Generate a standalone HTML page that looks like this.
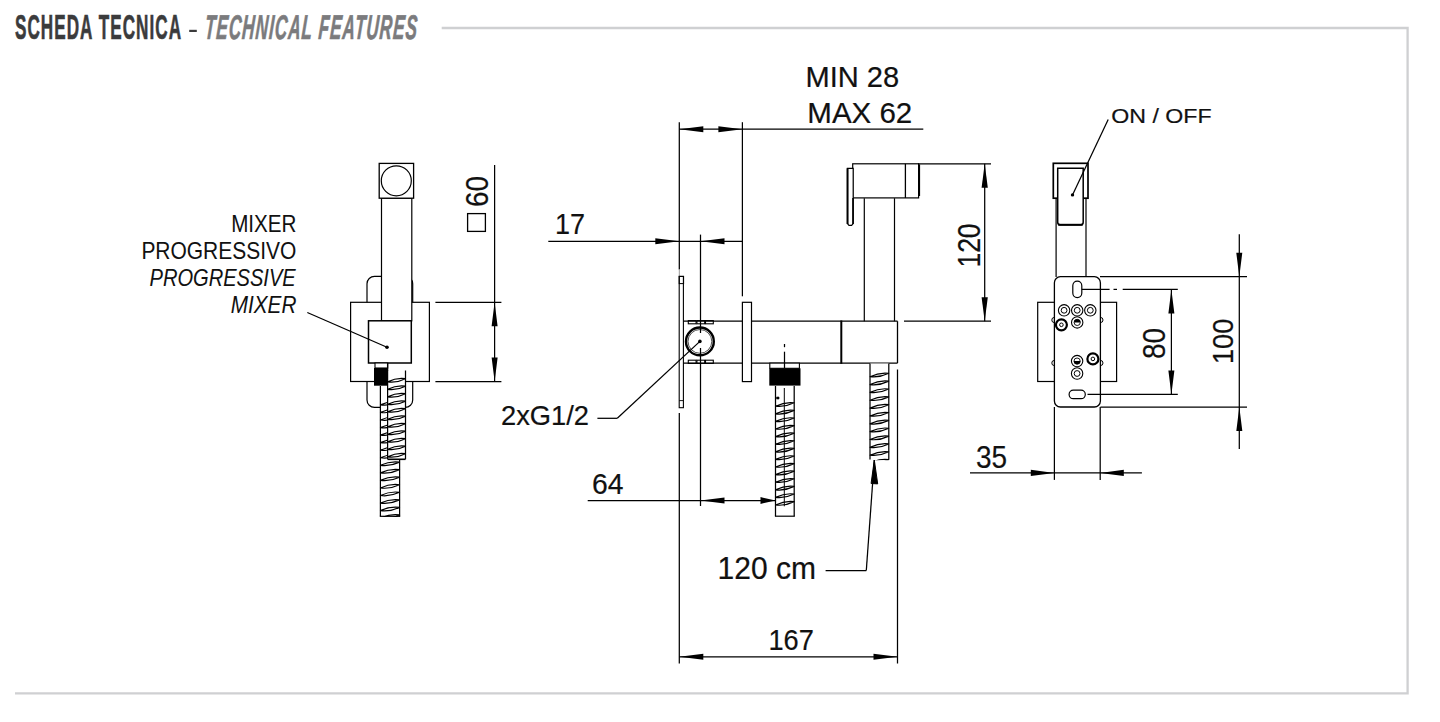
<!DOCTYPE html>
<html><head><meta charset="utf-8"><style>
html,body{margin:0;padding:0;background:#fff;}
body{width:1440px;height:722px;overflow:hidden;position:relative;}
svg{position:absolute;left:0;top:0;}
</style></head><body>
<svg width="1440" height="722" viewBox="0 0 1440 722">
<g font-family="Liberation Sans, sans-serif">
<g transform="translate(15,39.2) scale(0.5,1)"><text x="0" y="0" font-size="34.2" font-weight="bold" fill="#3b3b3c" stroke="#3b3b3c" stroke-width="0.7" textLength="332" lengthAdjust="spacing">SCHEDA TECNICA</text></g>
<rect x="189.2" y="29.8" width="7.6" height="2.2" fill="#3b3b3c"/>
<g transform="translate(204.2,39.2) scale(0.5,1) skewX(-8)"><text x="0" y="0" font-size="34.2" font-weight="bold" font-style="italic" fill="#7b7b7d" stroke="#7b7b7d" stroke-width="0.7" textLength="424.4" lengthAdjust="spacing">TECHNICAL FEATURES</text></g>
</g>
<g stroke="#cfd0d2" stroke-width="2.3" fill="none">
<polyline points="441.7,28 1407.6,28 1407.6,693.3 15,693.3"/>
</g>
<g stroke="#000" fill="none" font-family="Liberation Sans, sans-serif">
<rect x="367" y="276.3" width="45.7" height="131.1" rx="7.5" fill="#fff" stroke-width="1.2"/>
<rect x="350.6" y="302.3" width="78.8" height="79.2" fill="#fff" stroke-width="1.2" />
<rect x="381.5" y="198.2" width="30.3" height="122.6" fill="#fff" stroke-width="1.2" />
<rect x="379.2" y="163.4" width="34.4" height="34.8" fill="#fff" stroke-width="1.3" />
<circle cx="396.3" cy="180.8" r="15" fill="none" stroke-width="1.2"/>
<rect x="368.5" y="320.8" width="42.8" height="42.2" fill="#fff" stroke-width="1.5" />
<rect x="375" y="363" width="12.7" height="5" fill="#fff" stroke-width="1.1" />
<rect x="374" y="368" width="13.8" height="17.7" fill="#000" stroke="none"/>
<clipPath id="hc1"><rect x="379.7" y="386" width="20.600000000000044" height="131.09999999999997"/></clipPath>
<rect x="380.4" y="386" width="19.200000000000045" height="130.29999999999995" fill="#fff" stroke="none"/>
<g clip-path="url(#hc1)">
<path d="M380.4,404.90 Q390.0,400.40 399.6,401.70 Q390.0,406.20 380.4,404.90 Z" stroke-width="1.2" fill="none" stroke-linejoin="round"/>
<path d="M380.4,412.45 Q390.0,407.95 399.6,409.25 Q390.0,413.75 380.4,412.45 Z" stroke-width="1.2" fill="none" stroke-linejoin="round"/>
<path d="M380.4,420.00 Q390.0,415.50 399.6,416.80 Q390.0,421.30 380.4,420.00 Z" stroke-width="1.2" fill="none" stroke-linejoin="round"/>
<path d="M380.4,427.55 Q390.0,423.05 399.6,424.35 Q390.0,428.85 380.4,427.55 Z" stroke-width="1.2" fill="none" stroke-linejoin="round"/>
<path d="M380.4,435.10 Q390.0,430.60 399.6,431.90 Q390.0,436.40 380.4,435.10 Z" stroke-width="1.2" fill="none" stroke-linejoin="round"/>
<path d="M380.4,442.65 Q390.0,438.15 399.6,439.45 Q390.0,443.95 380.4,442.65 Z" stroke-width="1.2" fill="none" stroke-linejoin="round"/>
<path d="M380.4,450.20 Q390.0,445.70 399.6,447.00 Q390.0,451.50 380.4,450.20 Z" stroke-width="1.2" fill="none" stroke-linejoin="round"/>
<path d="M380.4,457.75 Q390.0,453.25 399.6,454.55 Q390.0,459.05 380.4,457.75 Z" stroke-width="1.2" fill="none" stroke-linejoin="round"/>
<path d="M380.4,465.30 Q390.0,460.80 399.6,462.10 Q390.0,466.60 380.4,465.30 Z" stroke-width="1.2" fill="none" stroke-linejoin="round"/>
<path d="M380.4,472.85 Q390.0,468.35 399.6,469.65 Q390.0,474.15 380.4,472.85 Z" stroke-width="1.2" fill="none" stroke-linejoin="round"/>
<path d="M380.4,480.40 Q390.0,475.90 399.6,477.20 Q390.0,481.70 380.4,480.40 Z" stroke-width="1.2" fill="none" stroke-linejoin="round"/>
<path d="M380.4,487.95 Q390.0,483.45 399.6,484.75 Q390.0,489.25 380.4,487.95 Z" stroke-width="1.2" fill="none" stroke-linejoin="round"/>
<path d="M380.4,495.50 Q390.0,491.00 399.6,492.30 Q390.0,496.80 380.4,495.50 Z" stroke-width="1.2" fill="none" stroke-linejoin="round"/>
<path d="M380.4,503.05 Q390.0,498.55 399.6,499.85 Q390.0,504.35 380.4,503.05 Z" stroke-width="1.2" fill="none" stroke-linejoin="round"/>
<path d="M380.4,510.60 Q390.0,506.10 399.6,507.40 Q390.0,511.90 380.4,510.60 Z" stroke-width="1.2" fill="none" stroke-linejoin="round"/>
<path d="M380.4,518.15 Q390.0,513.65 399.6,514.95 Q390.0,519.45 380.4,518.15 Z" stroke-width="1.2" fill="none" stroke-linejoin="round"/>
</g>
<line x1="380.4" y1="386" x2="380.4" y2="516.3" stroke-width="1.25" />
<line x1="399.6" y1="386" x2="399.6" y2="516.3" stroke-width="1.25" />
<line x1="379.79999999999995" y1="516.3" x2="400.20000000000005" y2="516.3" stroke-width="1.2" />
<rect x="387.7" y="369" width="17.8" height="90.5" fill="#fff" stroke="none"/>
<clipPath id="hc2"><rect x="386.90000000000003" y="370.5" width="19.299999999999976" height="89.60000000000001"/></clipPath>
<rect x="387.6" y="370.5" width="17.899999999999977" height="88.80000000000001" fill="#fff" stroke="none"/>
<g clip-path="url(#hc2)">
<path d="M387.6,381.90 Q396.6,377.40 405.5,378.70 Q396.6,383.20 387.6,381.90 Z" stroke-width="1.2" fill="none" stroke-linejoin="round"/>
<path d="M387.6,389.40 Q396.6,384.90 405.5,386.20 Q396.6,390.70 387.6,389.40 Z" stroke-width="1.2" fill="none" stroke-linejoin="round"/>
<path d="M387.6,396.90 Q396.6,392.40 405.5,393.70 Q396.6,398.20 387.6,396.90 Z" stroke-width="1.2" fill="none" stroke-linejoin="round"/>
<path d="M387.6,404.40 Q396.6,399.90 405.5,401.20 Q396.6,405.70 387.6,404.40 Z" stroke-width="1.2" fill="none" stroke-linejoin="round"/>
<path d="M387.6,411.90 Q396.6,407.40 405.5,408.70 Q396.6,413.20 387.6,411.90 Z" stroke-width="1.2" fill="none" stroke-linejoin="round"/>
<path d="M387.6,419.40 Q396.6,414.90 405.5,416.20 Q396.6,420.70 387.6,419.40 Z" stroke-width="1.2" fill="none" stroke-linejoin="round"/>
<path d="M387.6,426.90 Q396.6,422.40 405.5,423.70 Q396.6,428.20 387.6,426.90 Z" stroke-width="1.2" fill="none" stroke-linejoin="round"/>
<path d="M387.6,434.40 Q396.6,429.90 405.5,431.20 Q396.6,435.70 387.6,434.40 Z" stroke-width="1.2" fill="none" stroke-linejoin="round"/>
<path d="M387.6,441.90 Q396.6,437.40 405.5,438.70 Q396.6,443.20 387.6,441.90 Z" stroke-width="1.2" fill="none" stroke-linejoin="round"/>
<path d="M387.6,449.40 Q396.6,444.90 405.5,446.20 Q396.6,450.70 387.6,449.40 Z" stroke-width="1.2" fill="none" stroke-linejoin="round"/>
<path d="M387.6,456.90 Q396.6,452.40 405.5,453.70 Q396.6,458.20 387.6,456.90 Z" stroke-width="1.2" fill="none" stroke-linejoin="round"/>
<path d="M387.6,464.40 Q396.6,459.90 405.5,461.20 Q396.6,465.70 387.6,464.40 Z" stroke-width="1.2" fill="none" stroke-linejoin="round"/>
</g>
<line x1="387.6" y1="370.5" x2="387.6" y2="459.3" stroke-width="1.25" />
<line x1="405.5" y1="370.5" x2="405.5" y2="459.3" stroke-width="1.25" />
<line x1="387.6" y1="363" x2="387.6" y2="371" stroke-width="1.3" />
<line x1="387.6" y1="459.3" x2="405.5" y2="459.3" stroke-width="1.6" />
<line x1="307.3" y1="312.5" x2="387" y2="347.3" stroke-width="1.25" />
<circle cx="387" cy="347.3" r="1.8" fill="#000" stroke="none"/>
<line x1="435.4" y1="302.3" x2="501.4" y2="302.3" stroke-width="1.25" />
<line x1="435.4" y1="381.6" x2="501.4" y2="381.6" stroke-width="1.25" />
<line x1="494.6" y1="165" x2="494.6" y2="381.6" stroke-width="1.25" />
<polygon points="494.6,302.3 491.6,326.3 497.6,326.3" fill="#000" stroke="none"/>
<polygon points="494.6,381.6 491.6,357.6 497.6,357.6" fill="#000" stroke="none"/>
<g transform="translate(488.1,207.1) rotate(-90)"><text x="0" y="0" font-size="30.83" text-anchor="start" textLength="31.08" lengthAdjust="spacingAndGlyphs" fill="#111" stroke="#111" stroke-width="0.2">60</text></g>
<rect x="467.6" y="213.6" width="17.8" height="17.8" fill="none" stroke-width="1.3" />
<g transform="translate(296.4,231.9)"><text x="0" y="0" font-size="24" text-anchor="end" textLength="65.24" lengthAdjust="spacingAndGlyphs" fill="#111" stroke="#111" stroke-width="0.05">MIXER</text></g>
<g transform="translate(296.2,258.6)"><text x="0" y="0" font-size="24" text-anchor="end" textLength="154.81" lengthAdjust="spacingAndGlyphs" fill="#111" stroke="#111" stroke-width="0.05">PROGRESSIVO</text></g>
<g transform="translate(295.7,285.5)"><text x="0" y="0" font-size="24" text-anchor="end" font-style="italic" textLength="146.2" lengthAdjust="spacingAndGlyphs" fill="#111" stroke="#111" stroke-width="0.05">PROGRESSIVE</text></g>
<g transform="translate(296.4,313.3)"><text x="0" y="0" font-size="24" text-anchor="end" font-style="italic" textLength="65.61" lengthAdjust="spacingAndGlyphs" fill="#111" stroke="#111" stroke-width="0.05">MIXER</text></g>
<line x1="679.3" y1="122.2" x2="679.3" y2="269.5" stroke-width="1.25" />
<line x1="679.3" y1="269.5" x2="679.3" y2="276.4" stroke-width="1.0" stroke="#999"/>
<line x1="742.4" y1="122.2" x2="742.4" y2="296.3" stroke-width="1.25" />
<line x1="679.3" y1="413" x2="679.3" y2="663.5" stroke-width="1.25" />
<line x1="897.5" y1="369.5" x2="897.5" y2="663.5" stroke-width="1.25" />
<line x1="679.3" y1="129.2" x2="923.3" y2="129.2" stroke-width="1.25" />
<polygon points="679.3,129.2 703.3,126.2 703.3,132.2" fill="#000" stroke="none"/>
<polygon points="742.4,129.2 718.4,126.2 718.4,132.2" fill="#000" stroke="none"/>
<g transform="translate(805.5,86.9)"><text x="0" y="0" font-size="29.5" text-anchor="start" textLength="93.69" lengthAdjust="spacingAndGlyphs" fill="#111" stroke="#111" stroke-width="0.2">MIN 28</text></g>
<g transform="translate(807.3,123.0)"><text x="0" y="0" font-size="29.5" text-anchor="start" textLength="104.99" lengthAdjust="spacingAndGlyphs" fill="#111" stroke="#111" stroke-width="0.2">MAX 62</text></g>
<line x1="548.3" y1="241.3" x2="742.4" y2="241.3" stroke-width="1.25" />
<polygon points="679.3,241.3 655.3,238.3 655.3,244.3" fill="#000" stroke="none"/>
<polygon points="700.5,241.3 724.5,238.3 724.5,244.3" fill="#000" stroke="none"/>
<g transform="translate(555.0,234.4)"><text x="0" y="0" font-size="29.5" text-anchor="start" textLength="30.03" lengthAdjust="spacingAndGlyphs" fill="#111" stroke="#111" stroke-width="0.2">17</text></g>
<line x1="700.5" y1="234.6" x2="700.5" y2="333" stroke-width="1.25" />
<line x1="700.5" y1="348" x2="700.5" y2="506" stroke-width="1.25" />
<rect x="679.2" y="276.4" width="4.2" height="131.3" fill="#fff" stroke-width="1.1" />
<rect x="679.2" y="276.4" width="4.4" height="7.2" fill="none" stroke-width="1.0" />
<line x1="679.2" y1="400.6" x2="683.4" y2="400.6" stroke-width="0.9" />
<rect x="742.4" y="302.3" width="9.1" height="79.3" fill="#fff" stroke-width="1.2" />
<line x1="683.3" y1="321.2" x2="742.4" y2="321.2" stroke-width="1.2" />
<line x1="751.5" y1="321.2" x2="897.5" y2="321.2" stroke-width="1.2" />
<line x1="683.3" y1="363.1" x2="742.4" y2="363.1" stroke-width="1.2" />
<line x1="751.5" y1="363.1" x2="897.5" y2="363.1" stroke-width="1.2" />
<line x1="897.5" y1="321.2" x2="897.5" y2="363.1" stroke-width="1.3" />
<line x1="841.3" y1="320.5" x2="841.3" y2="363.8" stroke-width="2.0" />
<rect x="688.3" y="320.6" width="7.8" height="3.2" fill="none" stroke-width="1.1" />
<rect x="688.3" y="360.2" width="7.8" height="3.2" fill="none" stroke-width="1.1" />
<rect x="696.9" y="320.6" width="7.8" height="3.2" fill="none" stroke-width="1.1" />
<rect x="696.9" y="360.2" width="7.8" height="3.2" fill="none" stroke-width="1.1" />
<rect x="705.5" y="320.6" width="7.8" height="3.2" fill="none" stroke-width="1.1" />
<rect x="705.5" y="360.2" width="7.8" height="3.2" fill="none" stroke-width="1.1" />
<circle cx="699.9" cy="341.4" r="13.9" fill="none" stroke-width="2.4"/>
<circle cx="699.9" cy="341.4" r="11.9" fill="none" stroke-width="0.7"/>
<line x1="699.9" y1="341.4" x2="617.3" y2="418.3" stroke-width="1.25" />
<line x1="597.4" y1="418.3" x2="617.3" y2="418.3" stroke-width="1.25" />
<circle cx="699.9" cy="341.4" r="1.8" fill="#000" stroke="none"/>
<g transform="translate(501.0,425.0)"><text x="0" y="0" font-size="27.15" text-anchor="start" textLength="88.03" lengthAdjust="spacingAndGlyphs" fill="#111" stroke="#111" stroke-width="0.2">2xG1/2</text></g>
<rect x="769.8" y="363.1" width="29.6" height="5.2" fill="#fff" stroke-width="1.1" />
<rect x="769.3" y="368.3" width="31.2" height="17.3" fill="#000" stroke="none"/>
<line x1="784.5" y1="344" x2="784.5" y2="347.2" stroke-width="1.25" />
<line x1="784.5" y1="351.7" x2="784.5" y2="368" stroke-width="1.25" />
<clipPath id="hc3"><rect x="774.8" y="386" width="20.100000000000044" height="131.00000000000006"/></clipPath>
<rect x="775.5" y="386" width="18.700000000000045" height="130.20000000000005" fill="#fff" stroke="none"/>
<g clip-path="url(#hc3)">
<path d="M775.5,406.20 Q784.9,401.60 794.2,402.80 Q784.9,407.40 775.5,406.20 Z" stroke-width="1.2" fill="none" stroke-linejoin="round"/>
<path d="M775.5,413.80 Q784.9,409.20 794.2,410.40 Q784.9,415.00 775.5,413.80 Z" stroke-width="1.2" fill="none" stroke-linejoin="round"/>
<path d="M775.5,421.40 Q784.9,416.80 794.2,418.00 Q784.9,422.60 775.5,421.40 Z" stroke-width="1.2" fill="none" stroke-linejoin="round"/>
<path d="M775.5,429.00 Q784.9,424.40 794.2,425.60 Q784.9,430.20 775.5,429.00 Z" stroke-width="1.2" fill="none" stroke-linejoin="round"/>
<path d="M775.5,436.60 Q784.9,432.00 794.2,433.20 Q784.9,437.80 775.5,436.60 Z" stroke-width="1.2" fill="none" stroke-linejoin="round"/>
<path d="M775.5,444.20 Q784.9,439.60 794.2,440.80 Q784.9,445.40 775.5,444.20 Z" stroke-width="1.2" fill="none" stroke-linejoin="round"/>
<path d="M775.5,451.80 Q784.9,447.20 794.2,448.40 Q784.9,453.00 775.5,451.80 Z" stroke-width="1.2" fill="none" stroke-linejoin="round"/>
<path d="M775.5,459.40 Q784.9,454.80 794.2,456.00 Q784.9,460.60 775.5,459.40 Z" stroke-width="1.2" fill="none" stroke-linejoin="round"/>
<path d="M775.5,467.00 Q784.9,462.40 794.2,463.60 Q784.9,468.20 775.5,467.00 Z" stroke-width="1.2" fill="none" stroke-linejoin="round"/>
<path d="M775.5,474.60 Q784.9,470.00 794.2,471.20 Q784.9,475.80 775.5,474.60 Z" stroke-width="1.2" fill="none" stroke-linejoin="round"/>
<path d="M775.5,482.20 Q784.9,477.60 794.2,478.80 Q784.9,483.40 775.5,482.20 Z" stroke-width="1.2" fill="none" stroke-linejoin="round"/>
<path d="M775.5,489.80 Q784.9,485.20 794.2,486.40 Q784.9,491.00 775.5,489.80 Z" stroke-width="1.2" fill="none" stroke-linejoin="round"/>
<path d="M775.5,497.40 Q784.9,492.80 794.2,494.00 Q784.9,498.60 775.5,497.40 Z" stroke-width="1.2" fill="none" stroke-linejoin="round"/>
<path d="M775.5,505.00 Q784.9,500.40 794.2,501.60 Q784.9,506.20 775.5,505.00 Z" stroke-width="1.2" fill="none" stroke-linejoin="round"/>
</g>
<line x1="775.5" y1="386" x2="775.5" y2="516.2" stroke-width="1.25" />
<line x1="794.2" y1="386" x2="794.2" y2="516.2" stroke-width="1.25" />
<line x1="774.9" y1="516.2" x2="794.8000000000001" y2="516.2" stroke-width="1.2" />
<path d="M776.6,397 L779,397 L779,399 L776.6,399 Z" fill="#000" stroke-width="0.6"/>
<line x1="784.3" y1="388" x2="784.3" y2="506.3" stroke-width="1.0" />
<line x1="864.3" y1="198.2" x2="864.3" y2="321.2" stroke-width="1.2" />
<line x1="894.5" y1="198.2" x2="894.5" y2="321.2" stroke-width="1.2" />
<rect x="852.7" y="163.8" width="65.9" height="34.1" fill="#fff" stroke-width="1.2" />
<line x1="905.4" y1="163.8" x2="905.4" y2="197.9" stroke-width="1.3" />
<line x1="919.2" y1="164.4" x2="919.2" y2="196" stroke-width="1.8" />
<path d="M847.4,168.3 L853.2,168.3 L853.2,223.6 L851.6,225.4 L849,225.4 L847.4,223.6 Z" fill="#fff" stroke-width="1.2"/>
<line x1="847.6" y1="168.3" x2="847.6" y2="224" stroke-width="1.9" />
<line x1="853.0" y1="198" x2="853.0" y2="224" stroke-width="1.6" />
<line x1="918" y1="163.8" x2="991" y2="163.8" stroke-width="1.25" />
<line x1="904" y1="321.2" x2="991" y2="321.2" stroke-width="1.25" />
<line x1="984.7" y1="163.8" x2="984.7" y2="321.2" stroke-width="1.25" />
<polygon points="984.7,163.8 981.6,187.8 987.8,187.8" fill="#000" stroke="none"/>
<polygon points="984.7,321.2 981.6,297.2 987.8,297.2" fill="#000" stroke="none"/>
<g transform="translate(980.0,267.6) rotate(-90)"><text x="0" y="0" font-size="31.71" text-anchor="start" textLength="44.21" lengthAdjust="spacingAndGlyphs" fill="#111" stroke="#111" stroke-width="0.2">120</text></g>
<clipPath id="hc4"><rect x="869.3" y="363.5" width="20.199999999999953" height="96.8"/></clipPath>
<rect x="870" y="363.5" width="18.799999999999955" height="96.0" fill="#fff" stroke="none"/>
<g clip-path="url(#hc4)">
<path d="M870.0,376.70 Q879.4,372.10 888.8,373.30 Q879.4,377.90 870.0,376.70 Z" stroke-width="1.2" fill="none" stroke-linejoin="round"/>
<path d="M870.0,384.55 Q879.4,379.95 888.8,381.15 Q879.4,385.75 870.0,384.55 Z" stroke-width="1.2" fill="none" stroke-linejoin="round"/>
<path d="M870.0,392.40 Q879.4,387.80 888.8,389.00 Q879.4,393.60 870.0,392.40 Z" stroke-width="1.2" fill="none" stroke-linejoin="round"/>
<path d="M870.0,400.25 Q879.4,395.65 888.8,396.85 Q879.4,401.45 870.0,400.25 Z" stroke-width="1.2" fill="none" stroke-linejoin="round"/>
<path d="M870.0,408.10 Q879.4,403.50 888.8,404.70 Q879.4,409.30 870.0,408.10 Z" stroke-width="1.2" fill="none" stroke-linejoin="round"/>
<path d="M870.0,415.95 Q879.4,411.35 888.8,412.55 Q879.4,417.15 870.0,415.95 Z" stroke-width="1.2" fill="none" stroke-linejoin="round"/>
<path d="M870.0,423.80 Q879.4,419.20 888.8,420.40 Q879.4,425.00 870.0,423.80 Z" stroke-width="1.2" fill="none" stroke-linejoin="round"/>
<path d="M870.0,431.65 Q879.4,427.05 888.8,428.25 Q879.4,432.85 870.0,431.65 Z" stroke-width="1.2" fill="none" stroke-linejoin="round"/>
<path d="M870.0,439.50 Q879.4,434.90 888.8,436.10 Q879.4,440.70 870.0,439.50 Z" stroke-width="1.2" fill="none" stroke-linejoin="round"/>
<path d="M870.0,447.35 Q879.4,442.75 888.8,443.95 Q879.4,448.55 870.0,447.35 Z" stroke-width="1.2" fill="none" stroke-linejoin="round"/>
<path d="M870.0,455.20 Q879.4,450.60 888.8,451.80 Q879.4,456.40 870.0,455.20 Z" stroke-width="1.2" fill="none" stroke-linejoin="round"/>
<path d="M870.0,463.05 Q879.4,458.45 888.8,459.65 Q879.4,464.25 870.0,463.05 Z" stroke-width="1.2" fill="none" stroke-linejoin="round"/>
</g>
<line x1="870" y1="363.5" x2="870" y2="459.5" stroke-width="1.25" />
<line x1="888.8" y1="363.5" x2="888.8" y2="459.5" stroke-width="1.25" />
<line x1="587.7" y1="500.5" x2="775.5" y2="500.5" stroke-width="1.25" />
<polygon points="700.5,500.5 724.5,497.5 724.5,503.5" fill="#000" stroke="none"/>
<polygon points="775.5,500.5 760.5,497.1 760.5,503.9" fill="#000" stroke="none"/>
<g transform="translate(592.0,493.6)"><text x="0" y="0" font-size="29.5" text-anchor="start" textLength="31.5" lengthAdjust="spacingAndGlyphs" fill="#111" stroke="#111" stroke-width="0.2">64</text></g>
<line x1="679.3" y1="656.8" x2="897.5" y2="656.8" stroke-width="1.25" />
<polygon points="679.3,656.8 703.3,653.8 703.3,659.8" fill="#000" stroke="none"/>
<polygon points="897.5,656.8 873.5,653.8 873.5,659.8" fill="#000" stroke="none"/>
<g transform="translate(768.4,650.4)"><text x="0" y="0" font-size="29.5" text-anchor="start" textLength="45.45" lengthAdjust="spacingAndGlyphs" fill="#111" stroke="#111" stroke-width="0.2">167</text></g>
<g transform="translate(717.6,579.0)"><text x="0" y="0" font-size="30.5" text-anchor="start" textLength="98.51" lengthAdjust="spacingAndGlyphs" fill="#111" stroke="#111" stroke-width="0.2">120 cm</text></g>
<line x1="825.6" y1="570.5" x2="866.3" y2="570.5" stroke-width="1.25" />
<line x1="866.3" y1="570.5" x2="874.3" y2="460" stroke-width="1.25" />
<polygon points="874.3,460 871.1,483.5 877.7,483.9" fill="#000"/>
<rect x="1037.7" y="302.3" width="78.9" height="79.2" fill="none" stroke-width="1.2" />
<line x1="1056.1" y1="197.9" x2="1056.1" y2="277" stroke-width="1.2" />
<line x1="1086" y1="197.9" x2="1086" y2="277" stroke-width="1.2" />
<rect x="1053.3" y="163.3" width="34.7" height="34.9" fill="#fff" stroke-width="1.7" />
<path d="M1057.7,168.3 L1083.2,168.3 L1083.2,222.3 Q1083.2,224.8 1080.7,224.8 L1060.2,224.8 Q1057.7,224.8 1057.7,222.3 Z" fill="#fff" stroke-width="1.5"/>
<line x1="1058.2" y1="224.8" x2="1082.7" y2="224.8" stroke-width="2.0" />
<line x1="1108.2" y1="119.5" x2="1072.5" y2="194.9" stroke-width="1.25" />
<circle cx="1072.5" cy="194.9" r="1.7" fill="#000" stroke="none"/>
<g transform="translate(1111.2,122.8)"><text x="0" y="0" font-size="21" text-anchor="start" textLength="100.4" lengthAdjust="spacingAndGlyphs" fill="#111" stroke="#111" stroke-width="0.2">ON / OFF</text></g>
<circle cx="1054.4" cy="320" r="2.6" fill="none" stroke-width="1.0"/>
<circle cx="1100.4" cy="320" r="2.6" fill="none" stroke-width="1.0"/>
<circle cx="1054.4" cy="363" r="2.6" fill="none" stroke-width="1.0"/>
<circle cx="1100.4" cy="363" r="2.6" fill="none" stroke-width="1.0"/>
<rect x="1054.4" y="276.7" width="46" height="130.3" rx="6" fill="#fff" stroke-width="1.3"/>
<rect x="1072.8" y="281.2" width="9" height="16.4" rx="4.5" fill="none" stroke-width="1.2"/>
<rect x="1069.1" y="390.2" width="16.2" height="8.5" rx="4.25" fill="none" stroke-width="1.2"/>
<circle cx="1064.1" cy="310.3" r="5.7" fill="none" stroke-width="1.1"/>
<circle cx="1064.1" cy="310.3" r="2.9" fill="none" stroke-width="1.0"/>
<circle cx="1077.2" cy="310.3" r="5.7" fill="none" stroke-width="1.1"/>
<circle cx="1077.2" cy="310.3" r="2.9" fill="none" stroke-width="1.0"/>
<circle cx="1090.3" cy="310.3" r="5.7" fill="none" stroke-width="1.1"/>
<circle cx="1090.3" cy="310.3" r="2.9" fill="none" stroke-width="1.0"/>
<circle cx="1061.4" cy="324.8" r="5.5" fill="none" stroke-width="2.2"/>
<circle cx="1061.4" cy="324.8" r="1.8" fill="none" stroke-width="1.0"/>
<circle cx="1077.2" cy="322.4" r="5.7" fill="none" stroke-width="1.1"/>
<path d="M1074,322.4 A3.2,3.2 0 0 1 1080.4,322.4 Z" fill="#000" stroke="none"/>
<circle cx="1077.2" cy="322.4" r="3.1" fill="none" stroke-width="0.9"/>
<circle cx="1077.1" cy="361.1" r="5.7" fill="none" stroke-width="1.1"/>
<path d="M1073.9,361.1 A3.2,3.2 0 0 0 1080.3,361.1 Z" fill="#000" stroke="none"/>
<circle cx="1077.1" cy="361.1" r="3.1" fill="none" stroke-width="0.9"/>
<circle cx="1077.1" cy="373.5" r="5.7" fill="none" stroke-width="1.1"/>
<circle cx="1077.1" cy="373.5" r="2.9" fill="none" stroke-width="1.0"/>
<circle cx="1092.9" cy="358.9" r="5.5" fill="none" stroke-width="2.2"/>
<circle cx="1092.9" cy="358.9" r="1.8" fill="none" stroke-width="1.0"/>
<line x1="1081.8" y1="289.4" x2="1109.6" y2="289.4" stroke-width="1.25" />
<line x1="1113.5" y1="289.4" x2="1117" y2="289.4" stroke-width="1.25" />
<line x1="1122.7" y1="289.4" x2="1177.8" y2="289.4" stroke-width="1.25" />
<line x1="1087.5" y1="394.4" x2="1177.8" y2="394.4" stroke-width="1.25" />
<line x1="1171.4" y1="289.4" x2="1171.4" y2="394.4" stroke-width="1.25" />
<polygon points="1171.4,289.4 1168.4,313.4 1174.4,313.4" fill="#000" stroke="none"/>
<polygon points="1171.4,394.4 1168.4,370.4 1174.4,370.4" fill="#000" stroke="none"/>
<g transform="translate(1165.2,359.0) rotate(-90)"><text x="0" y="0" font-size="31.12" text-anchor="start" textLength="31.08" lengthAdjust="spacingAndGlyphs" fill="#111" stroke="#111" stroke-width="0.2">80</text></g>
<line x1="1100" y1="276.7" x2="1247" y2="276.7" stroke-width="1.25" />
<line x1="1100.4" y1="407" x2="1247" y2="407" stroke-width="1.25" />
<line x1="1239.3" y1="234.2" x2="1239.3" y2="448.9" stroke-width="1.25" />
<polygon points="1239.3,276.7 1236.3,252.7 1242.3,252.7" fill="#000" stroke="none"/>
<polygon points="1239.3,407.0 1236.3,431.0 1242.3,431.0" fill="#000" stroke="none"/>
<g transform="translate(1233.4,364.0) rotate(-90)"><text x="0" y="0" font-size="29.5" text-anchor="start" textLength="45.37" lengthAdjust="spacingAndGlyphs" fill="#111" stroke="#111" stroke-width="0.2">100</text></g>
<line x1="1054.4" y1="407" x2="1054.4" y2="479.9" stroke-width="1.25" />
<line x1="1100.2" y1="407" x2="1100.2" y2="479.9" stroke-width="1.25" />
<line x1="970" y1="472.9" x2="1141.9" y2="472.9" stroke-width="1.25" />
<polygon points="1054.4,472.9 1030.8,469.8 1030.8,476.0" fill="#000" stroke="none"/>
<polygon points="1100.2,472.9 1123.8,469.8 1123.8,476.0" fill="#000" stroke="none"/>
<g transform="translate(976.0,467.8)"><text x="0" y="0" font-size="30.68" text-anchor="start" textLength="31.08" lengthAdjust="spacingAndGlyphs" fill="#111" stroke="#111" stroke-width="0.2">35</text></g>
</g>
</svg>
</body></html>
